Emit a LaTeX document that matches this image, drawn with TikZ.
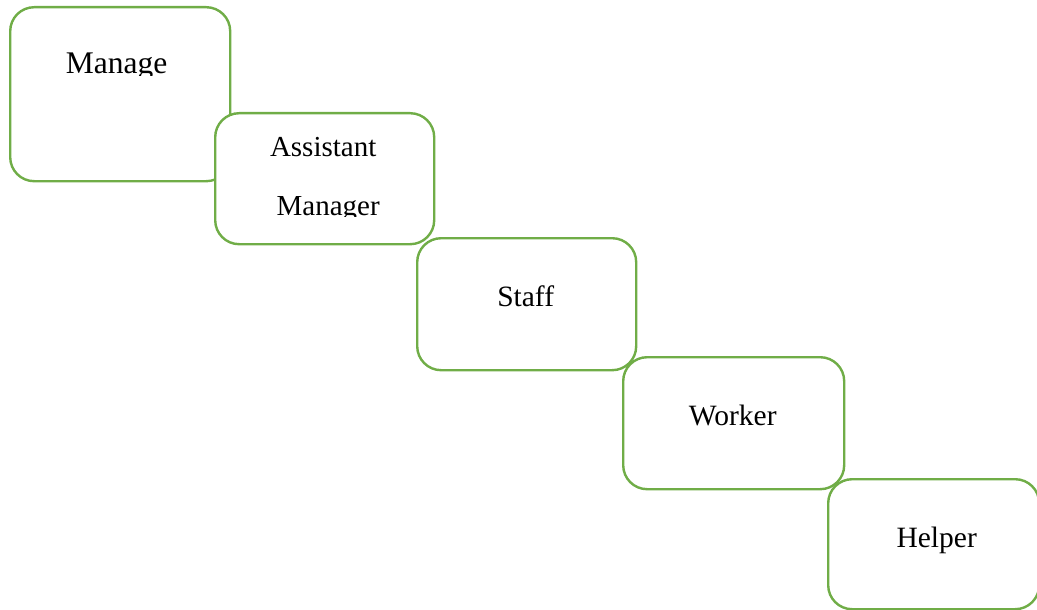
\documentclass[tikz,border=0pt]{standalone}
\usepackage{fontspec}
\setmainfont{Liberation Serif}
\usepackage{tikz}
\usetikzlibrary{positioning}
\definecolor{rankgreen}{HTML}{70AD47}

\begin{document}
\begin{tikzpicture}[x=1pt, y=-1pt, font=\fontsize{29.5}{34}\selectfont]
    \tikzstyle{rank}=[draw=rankgreen, line width=2.4pt, fill=white, rounded corners=24pt,
                      minimum width=219pt, minimum height=132pt,
                      anchor=north west, inner sep=0pt]
    \tikzstyle{title}=[anchor=base, inner sep=0pt]

    \useasboundingbox (0,0) rectangle (1037,610);

    % top of the ladder
    \node[rank, minimum width=220pt, minimum height=174pt] (manage) at (9,6) {};
    \begin{scope}
      \clip (manage.north west) rectangle ([yshift=-70pt]manage.north east);
      \node[title, font=\fontsize{31.5}{36}\selectfont] (managetxt)
           at ([shift={(-3.5,68)}]manage.north) {Manage};
    \end{scope}

    \node[rank, minimum height=131pt] (assistant) at (214,112) {};
    \node[title, font=\fontsize{29}{34}\selectfont] (assistanttxt)
         at ([shift={(-1.5,45)}]assistant.north) {Assistant};
    \begin{scope}
      \clip (assistant.north west) rectangle ([yshift=-104pt]assistant.north east);
      \node[title, font=\fontsize{29}{34}\selectfont] (managertxt)
           at ([shift={(3.5,103)}]assistant.north) {Manager};
    \end{scope}

    \node[rank, minimum width=219pt] (staff) at (416,237) {};
    \node[title] (stafftxt) at ([shift={(-1,69)}]staff.north) {Staff};

    \node[rank, minimum width=221pt] (worker) at (622,356) {};
    \node[title] (workertxt) at ([shift={(-1,69)}]worker.north) {Worker};

    % bottom of the ladder
    \node[rank, minimum width=211pt, minimum height=130pt] (helper) at (827,478) {};
    \node[title] (helpertxt) at ([shift={(3,69)}]helper.north) {Helper};
  \end{tikzpicture}
\end{document}
